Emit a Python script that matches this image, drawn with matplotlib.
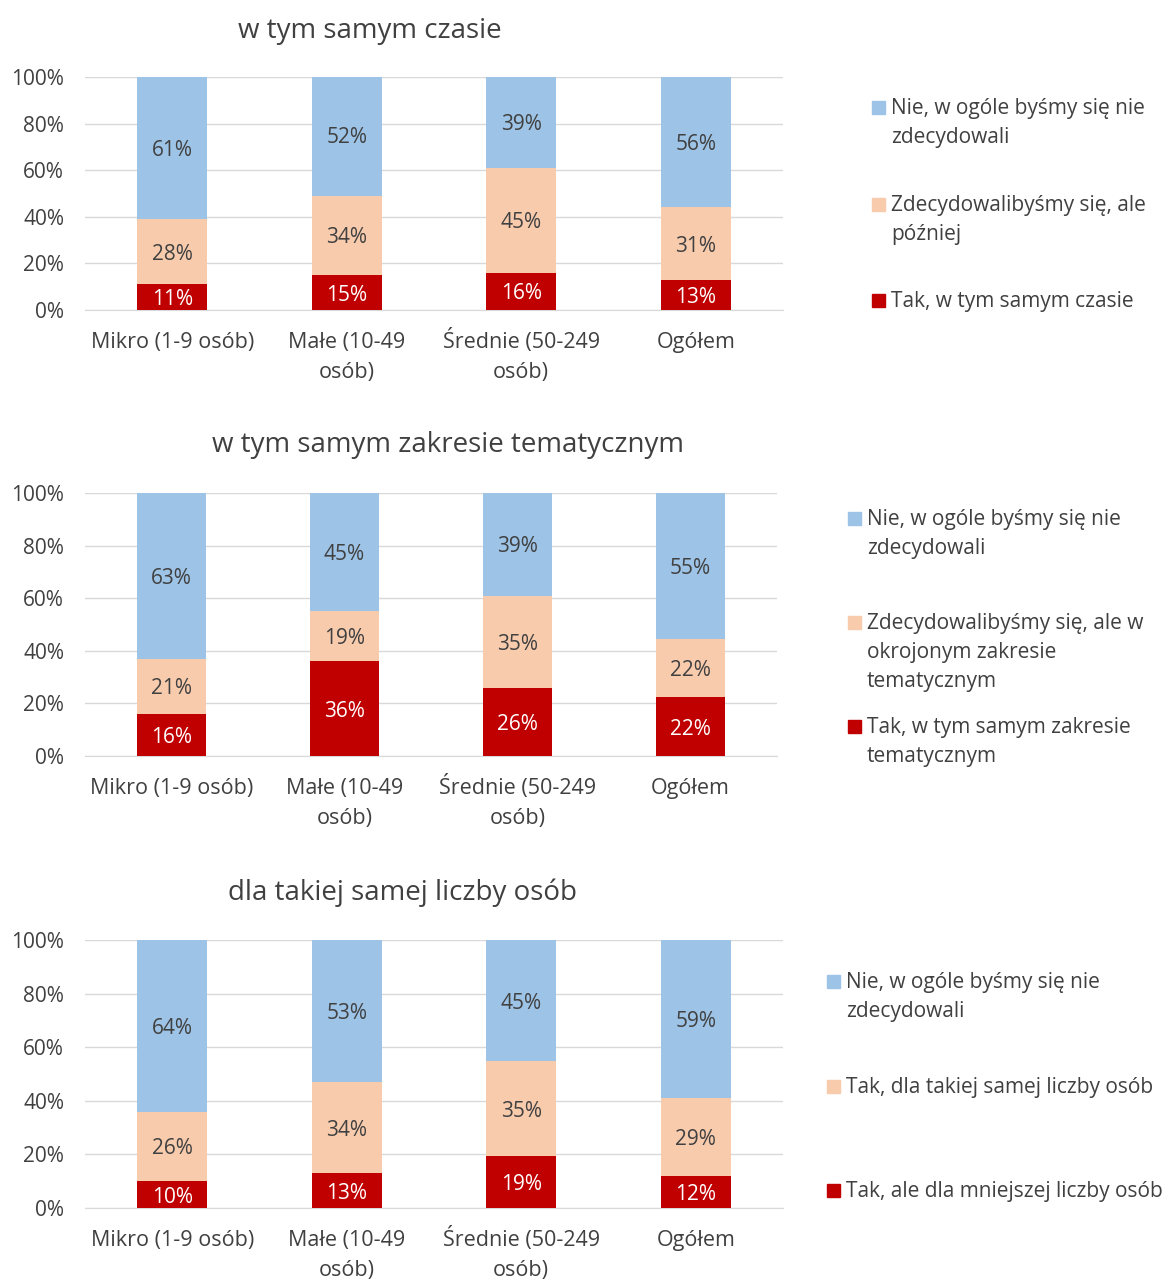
import matplotlib
matplotlib.use("Agg")
import matplotlib.pyplot as plt
from matplotlib.patches import Rectangle
from matplotlib.transforms import offset_copy

plt.rcParams['font.family'] = ['Open Sans', 'DejaVu Sans']

W, H = 1168, 1280

categories = ["Mikro (1-9 osób)", "Małe (10-49\nosób)", "Średnie (50-249\nosób)", "Ogółem"]

titles = ["w tym samym czasie",
          "w tym samym zakresie tematycznym",
          "dla takiej samej liczby osób"]

# values per panel: bottom (red), middle (peach), top (blue)
tak_1 = [11, 15, 16, 13]
mid_1 = [28, 34, 45, 31]
nie_1 = [61, 52, 39, 56]

tak_2 = [16, 36, 26, 22.3]
mid_2 = [21, 19, 35, 22.3]
nie_2 = [63, 45, 39, 55.4]

tak_3 = [10, 13, 19.4, 12]
mid_3 = [26, 34, 35.4, 29]
nie_3 = [64, 53, 45.2, 59]

legend_1 = ["Nie, w ogóle byśmy się nie\nzdecydowali",
            "Zdecydowalibyśmy się, ale\npóźniej",
            "Tak, w tym samym czasie"]
legend_2 = ["Nie, w ogóle byśmy się nie\nzdecydowali",
            "Zdecydowalibyśmy się, ale w\nokrojonym zakresie\ntematycznym",
            "Tak, w tym samym zakresie\ntematycznym"]
legend_3 = ["Nie, w ogóle byśmy się nie\nzdecydowali",
            "Tak, dla takiej samej liczby osób",
            "Tak, ale dla mniejszej liczby osób"]

BLUE = "#9DC3E6"
PEACH = "#F8CBAD"
RED = "#C00000"
TXT = "#404040"

panels = [
    dict(data=(tak_1, mid_1, nie_1), legend=legend_1, title=titles[0],
         box=(85, 77, 783, 310), title_xy=(370, 31),
         leg_x=872, leg_y=[107, 204, 300]),
    dict(data=(tak_2, mid_2, nie_2), legend=legend_2, title=titles[1],
         box=(85, 493, 777, 756), title_xy=(448, 445),
         leg_x=848, leg_y=[518, 622, 726]),
    dict(data=(tak_3, mid_3, nie_3), legend=legend_3, title=titles[2],
         box=(85, 940, 783, 1208), title_xy=(403, 893),
         leg_x=827, leg_y=[981, 1086, 1190]),
]

fig = plt.figure(figsize=(W / 100, H / 100), dpi=100)

for p in panels:
    x0, y0, x1, y1 = p['box']
    ax = fig.add_axes([x0 / W, 1 - y1 / H, (x1 - x0) / W, (y1 - y0) / H])
    tak, mid, nie = p['data']
    xs = range(len(categories))
    bottoms = [0] * len(categories)
    for vals, col, tcol in [(tak, RED, "white"), (mid, PEACH, TXT), (nie, BLUE, TXT)]:
        ax.bar(xs, vals, bottom=bottoms, width=0.4, color=col, zorder=3)
        for x, v, b in zip(xs, vals, bottoms):
            ax.text(x, b + v / 2, f"{round(v)}%", ha='center', va='center_baseline',
                    fontsize=15, color=tcol, zorder=4)
        bottoms = [b + v for b, v in zip(bottoms, vals)]
    ax.set_xlim(-0.5, 3.5)
    ax.set_ylim(0, 100)
    ax.set_yticks(range(0, 101, 20))
    ax.set_yticklabels([f"{t}%" for t in range(0, 101, 20)], fontsize=15, color=TXT)
    ax.set_xticks(list(xs))
    ax.set_xticklabels([])
    # category labels, one line at a time so accents don't shift them
    for x, cat in zip(xs, categories):
        for i, line in enumerate(cat.split("\n")):
            tr = offset_copy(ax.get_xaxis_transform(), fig=fig,
                             y=-(38 + 30 * i), units='dots')
            ax.text(x, 0, line, transform=tr, ha='center', va='baseline',
                    fontsize=15.5, color=TXT)
    ax.tick_params(length=0)
    ax.tick_params(axis='y', pad=15)
    ax.grid(axis='y', color="#D9D9D9", linewidth=1, zorder=0)
    for s in ['top', 'left', 'right']:
        ax.spines[s].set_visible(False)
    ax.spines['bottom'].set_color("#D9D9D9")
    tx, ty = p['title_xy']
    fig.text(tx / W, 1 - ty / H, p['title'], ha='center', va='center',
             fontsize=20, color=TXT)
    # legend
    for lab, col, ly in zip(p['legend'], [BLUE, PEACH, RED], p['leg_y']):
        sq = 13
        fig.add_artist(Rectangle((p['leg_x'] / W, 1 - (ly + sq / 2) / H),
                                 sq / W, sq / H, transform=fig.transFigure,
                                 color=col))
        fig.text((p['leg_x'] + 19) / W, 1 - (ly - 9) / H, lab, ha='left', va='top',
                 fontsize=15, color=TXT, linespacing=1.5)

fig.savefig("out.png", dpi=100)
